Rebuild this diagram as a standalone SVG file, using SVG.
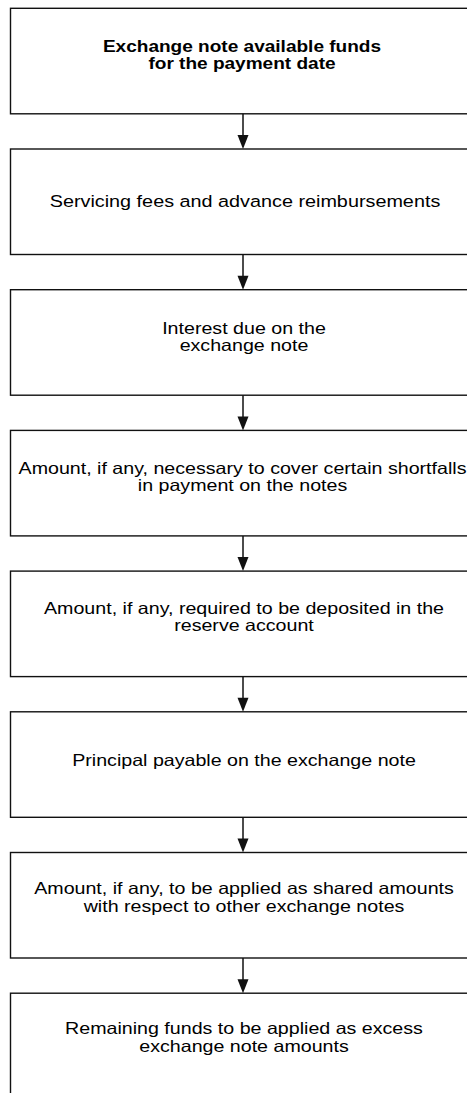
<svg xmlns="http://www.w3.org/2000/svg" width="467" height="1093" viewBox="0 0 467 1093">
  <defs>
    <style>
      .box { fill: #ffffff; stroke: #111111; stroke-width: 1.4; }
      .lbl { font-family: "Liberation Sans", Arial, sans-serif; font-size: 16.5px; fill: #000000; text-anchor: middle; }
      .ttl { font-weight: bold; font-size: 16px; }
      .edge { stroke: #111111; stroke-width: 1.5; fill: none; }
      .head { fill: #111111; }
    </style>
  </defs>
  <rect width="467" height="1093" fill="#ffffff"/>

  <!-- payment waterfall steps; boxes run off the right edge -->
  <g id="n1">
    <rect class="box" x="10.5" y="8.3" width="470" height="105.5"/>
    <g transform="translate(242,0) scale(1.19,1)">
      <text class="lbl ttl" x="0" y="52.5">Exchange note available funds</text>
      <text class="lbl ttl" x="0" y="69.5">for the payment date</text>
    </g>
  </g>
  <g id="n2">
    <rect class="box" x="10.5" y="149" width="470" height="105.5"/>
    <g transform="translate(245,0) scale(1.2,1)">
      <text class="lbl" x="0" y="207">Servicing fees and advance reimbursements</text>
    </g>
  </g>
  <g id="n3">
    <rect class="box" x="10.5" y="289.7" width="470" height="105.5"/>
    <g transform="translate(244,0) scale(1.19,1)">
      <text class="lbl" x="0" y="334">Interest due on the</text>
      <text class="lbl" x="0" y="351.5">exchange note</text>
    </g>
  </g>
  <g id="n4">
    <rect class="box" x="10.5" y="430.4" width="470" height="105.5"/>
    <g transform="translate(242.5,0) scale(1.19,1)">
      <text class="lbl" x="0" y="474">Amount, if any, necessary to cover certain shortfalls</text>
      <text class="lbl" x="0" y="491.5">in payment on the notes</text>
    </g>
  </g>
  <g id="n5">
    <rect class="box" x="10.5" y="571.1" width="470" height="105.5"/>
    <g transform="translate(244,0) scale(1.19,1)">
      <text class="lbl" x="0" y="614">Amount, if any, required to be deposited in the</text>
      <text class="lbl" x="0" y="631.5">reserve account</text>
    </g>
  </g>
  <g id="n6">
    <rect class="box" x="10.5" y="711.8" width="470" height="105.5"/>
    <g transform="translate(244,0) scale(1.19,1)">
      <text class="lbl" x="0" y="766.5">Principal payable on the exchange note</text>
    </g>
  </g>
  <g id="n7">
    <rect class="box" x="10.5" y="852.5" width="470" height="105.5"/>
    <g transform="translate(244,0) scale(1.19,1)">
      <text class="lbl" x="0" y="894.5">Amount, if any, to be applied as shared amounts</text>
      <text class="lbl" x="0" y="912.5">with respect to other exchange notes</text>
    </g>
  </g>
  <g id="n8">
    <rect class="box" x="10.5" y="993.2" width="470" height="120"/>
    <g transform="translate(244,0) scale(1.19,1)">
      <text class="lbl" x="0" y="1034.5">Remaining funds to be applied as excess</text>
      <text class="lbl" x="0" y="1052.5">exchange note amounts</text>
    </g>
  </g>

  <!-- downward connectors between consecutive steps -->
  <g id="connectors">
    <path class="edge" d="M243 113.8 V136"/>
    <path class="head" d="M237.5 135 H248.5 L243 149 Z"/>
    <path class="edge" d="M243 254.5 V276.7"/>
    <path class="head" d="M237.5 275.7 H248.5 L243 289.7 Z"/>
    <path class="edge" d="M243 395.2 V417.4"/>
    <path class="head" d="M237.5 416.4 H248.5 L243 430.4 Z"/>
    <path class="edge" d="M243 535.9 V558.1"/>
    <path class="head" d="M237.5 557.1 H248.5 L243 571.1 Z"/>
    <path class="edge" d="M243 676.6 V698.8"/>
    <path class="head" d="M237.5 697.8 H248.5 L243 711.8 Z"/>
    <path class="edge" d="M243 817.3 V839.5"/>
    <path class="head" d="M237.5 838.5 H248.5 L243 852.5 Z"/>
    <path class="edge" d="M243 958 V980.2"/>
    <path class="head" d="M237.5 979.2 H248.5 L243 993.2 Z"/>
  </g>
</svg>
